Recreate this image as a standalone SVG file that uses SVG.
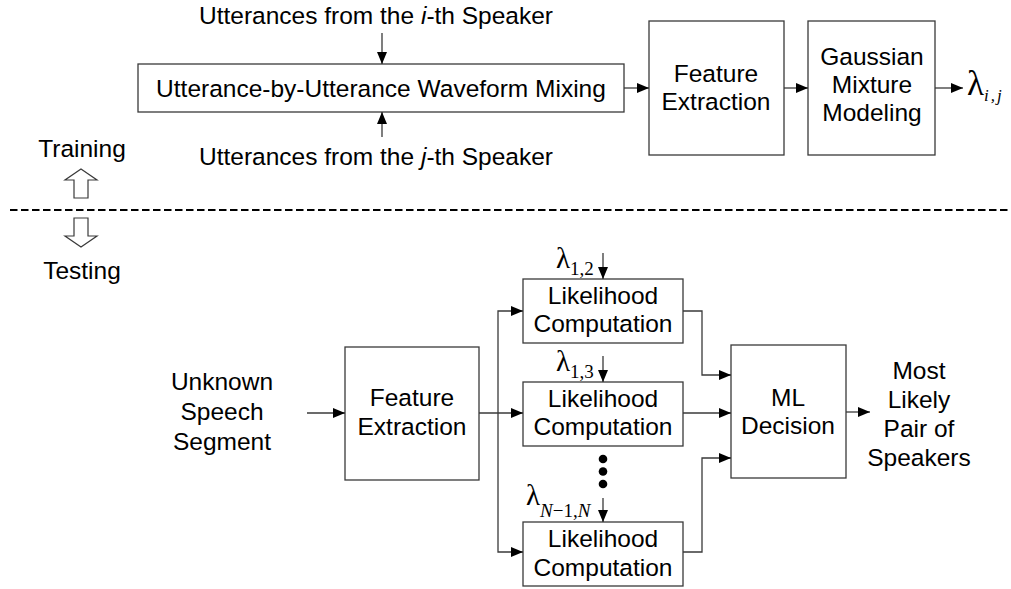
<svg xmlns="http://www.w3.org/2000/svg" width="1011" height="589" viewBox="0 0 1011 589">
<defs>
<marker id="ah" markerUnits="userSpaceOnUse" markerWidth="13" markerHeight="11" refX="12" refY="5" orient="auto">
<path d="M0,0 L12,5 L0,10 z" fill="#000"/>
</marker>
<style>
.box{fill:#fff;stroke:#3a3a3a;stroke-width:1.3}
.t{font-family:"Liberation Sans",Arial,sans-serif;font-size:24.5px;fill:#000;text-anchor:middle}
.c{fill:none;stroke:#3a3a3a;stroke-width:1.3;marker-end:url(#ah)}
.l{font-family:"Liberation Serif","Times New Roman",serif;fill:#000}
.hollow{fill:#fff;stroke:#3a3a3a;stroke-width:1.2}
</style>
</defs>
<rect width="1011" height="589" fill="#fff"/>

<g id="label-i">
<text class="t" x="376" y="24">Utterances from the <tspan font-style="italic">i</tspan>-th Speaker</text>
</g>
<g id="label-j">
<text class="t" x="376" y="165">Utterances from the <tspan font-style="italic">j</tspan>-th Speaker</text>
</g>
<g id="mixing">
<rect class="box" x="138" y="64" width="486" height="48"/>
<text class="t" x="381" y="97">Utterance-by-Utterance Waveform Mixing</text>
</g>
<g id="fe-train">
<rect class="box" x="649" y="21" width="135" height="134"/>
<text class="t" x="716" y="82">Feature</text>
<text class="t" x="716" y="110">Extraction</text>
</g>
<g id="gmm">
<rect class="box" x="808" y="21" width="127" height="134"/>
<text class="t" x="872" y="65">Gaussian</text>
<text class="t" x="872" y="93">Mixture</text>
<text class="t" x="872" y="121">Modeling</text>
</g>
<g id="lambda-ij">
<text class="l" x="967" y="95" font-size="35">λ<tspan font-size="17" font-style="italic" dy="6" letter-spacing="2">i,j</tspan></text>
</g>

<g id="training">
<text class="t" x="82" y="157">Training</text>
<path class="hollow" d="M81,169 L97,180 L88,180 L88,198 L74,198 L74,180 L65,180 z"/>
</g>
<g id="divider">
<line x1="10" y1="210" x2="1011" y2="210" stroke="#000" stroke-width="2" stroke-dasharray="7.5,3.5"/>
</g>
<g id="testing">
<path class="hollow" d="M74,218 L88,218 L88,236 L97,236 L81,247 L65,236 L74,236 z"/>
<text class="t" x="82" y="279">Testing</text>
</g>

<g id="unknown">
<text class="t" x="222" y="390">Unknown</text>
<text class="t" x="222" y="420">Speech</text>
<text class="t" x="222" y="450">Segment</text>
</g>
<g id="fe-test">
<rect class="box" x="345" y="347" width="134" height="133"/>
<text class="t" x="412" y="406">Feature</text>
<text class="t" x="412" y="435">Extraction</text>
</g>
<g id="lc1">
<rect class="box" x="523" y="279" width="160" height="64"/>
<text class="t" x="603" y="304">Likelihood</text>
<text class="t" x="603" y="332">Computation</text>
</g>
<g id="lc2">
<rect class="box" x="523" y="382" width="160" height="64"/>
<text class="t" x="603" y="407">Likelihood</text>
<text class="t" x="603" y="435">Computation</text>
</g>
<g id="lc3">
<rect class="box" x="523" y="522" width="160" height="64"/>
<text class="t" x="603" y="547">Likelihood</text>
<text class="t" x="603" y="576">Computation</text>
</g>
<g id="lambda-12">
<text class="l" x="556" y="268" font-size="29">λ<tspan font-size="19" dy="7">1,2</tspan></text>
</g>
<g id="lambda-13">
<text class="l" x="556" y="371" font-size="29">λ<tspan font-size="19" dy="7">1,3</tspan></text>
</g>
<g id="lambda-n">
<text class="l" x="526" y="505" font-size="29">λ<tspan font-size="19" font-style="italic" dy="12">N</tspan><tspan font-size="19">−1,</tspan><tspan font-size="19" font-style="italic">N</tspan></text>
</g>
<g id="dots">
<circle cx="603" cy="459" r="4.3" fill="#000"/>
<circle cx="603" cy="471.5" r="4.3" fill="#000"/>
<circle cx="603" cy="484" r="4.3" fill="#000"/>
</g>
<g id="ml">
<rect class="box" x="731" y="345" width="115" height="133"/>
<text class="t" x="788" y="406">ML</text>
<text class="t" x="788" y="434">Decision</text>
</g>
<g id="result">
<text class="t" x="919" y="379">Most</text>
<text class="t" x="919" y="408">Likely</text>
<text class="t" x="919" y="437">Pair of</text>
<text class="t" x="919" y="466">Speakers</text>
</g>

<g id="connectors">
<path class="c" d="M382,33 V64"/>
<path class="c" d="M382,137 V112"/>
<path class="c" d="M624,88 H649"/>
<path class="c" d="M784,88 H808"/>
<path class="c" d="M935,88 H963"/>
<path class="c" d="M307,413 H345"/>
<path class="c" d="M479,413 H523"/>
<path class="c" d="M498,413 V311 H523"/>
<path class="c" d="M498,413 V552 H523"/>
<path class="c" d="M683,311 H702 V375 H731"/>
<path class="c" d="M683,413 H731"/>
<path class="c" d="M683,552 H702 V458 H731"/>
<path class="c" d="M846,412 H870"/>
<path class="c" d="M603,253 V279"/>
<path class="c" d="M603,356 V382"/>
<path class="c" d="M603,498 V522"/>
</g>
</svg>
